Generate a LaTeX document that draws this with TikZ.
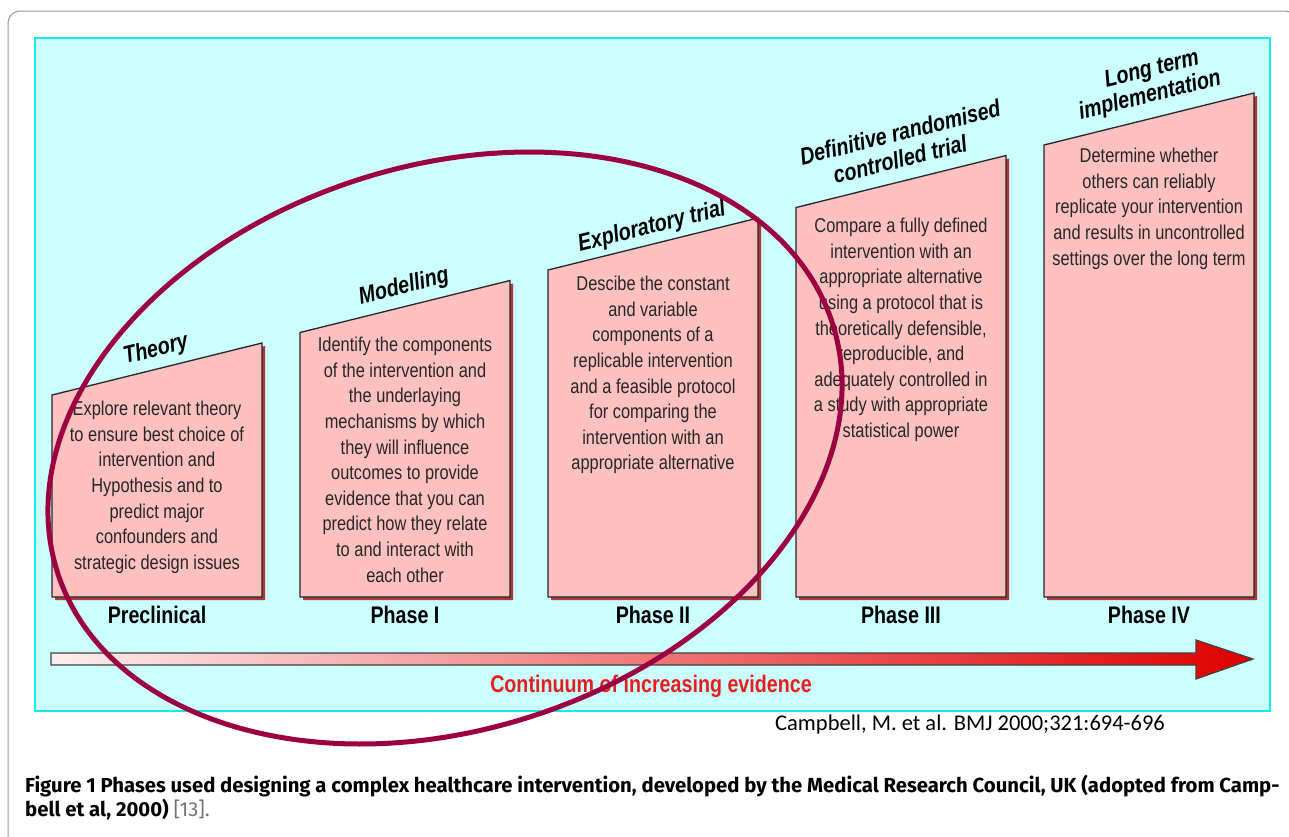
\documentclass[tikz,border=0pt]{standalone}
\usepackage{fontspec}
\usepackage{tikz}
\usetikzlibrary{positioning}
\newfontfamily\narrowfont[FakeStretch=0.82]{Liberation Sans}
\newfontfamily\capfont{Fira Sans}
\newfontfamily\citefont{Carlito}
\definecolor{panelcyan}{RGB}{204,255,255}
\definecolor{paneledge}{RGB}{20,235,235}
\definecolor{boxpink}{RGB}{255,192,192}
\definecolor{shadowred}{RGB}{175,55,55}
\definecolor{ringred}{RGB}{155,0,65}
\definecolor{evidred}{RGB}{228,30,30}
\definecolor{arrowred}{RGB}{222,0,0}
\definecolor{arrowpale}{RGB}{253,238,238}

\begin{document}
\begin{tikzpicture}[
    x=1pt, y=-1pt,
    panel/.style={fill=panelcyan, draw=paneledge, line width=2},
    phasebox/.style={fill=boxpink, draw=black!85, line width=1.3},
    boxshadow/.style={fill=shadowred},
    boxtext/.style={anchor=north, align=center, inner sep=0, text=black!85,
        font=\narrowfont\fontsize{20}{25.6}\selectfont},
    boxtitle/.style={rotate=13.9, inner sep=1,
        font=\narrowfont\bfseries\itshape\fontsize{24}{24}\selectfont},
    phase/.style={font=\narrowfont\bfseries\fontsize{24}{28}\selectfont},
    ring/.style={draw=ringred, line width=5},
    ]
    \useasboundingbox (0,0) rectangle (1289,836);

    % frame and panel
    \draw[gray!80, line width=1, rounded corners=12] (8,11) rectangle (1297,848);
    \draw[panel] (35,38) rectangle (1270,711);

    \foreach \k/\ty/\body in {
        0/401/{Explore relevant theory\\to ensure best choice of\\intervention and\\Hypothesis and to\\predict major\\confounders and\\strategic design issues},
        1/337/{Identify the components\\of the intervention and\\the underlaying\\mechanisms by which\\they will influence\\outcomes to provide\\evidence that you can\\predict how they relate\\to and interact with\\each other},
        2/276/{Descibe the constant\\and variable\\components of a\\replicable intervention\\and a feasible protocol\\for comparing the\\intervention with an\\appropriate alternative},
        3/218/{Compare a fully defined\\intervention with an\\appropriate alternative\\using a protocol that is\\theoretically defensible,\\reproducible, and\\adequately controlled in\\a study with appropriate\\statistical power},
        4/148/{Determine whether\\others can reliably\\replicate your intervention\\and results in uncontrolled\\settings over the long term}} {
        \pgfmathsetmacro\lx{52+248*\k}
        \pgfmathsetmacro\rx{\lx+210}
        \pgfmathsetmacro\tl{395-62.5*\k}
        \pgfmathsetmacro\tr{\tl-52}
        \fill[boxshadow] (\lx+3,\tl+3) -- (\rx+3,\tr+3) -- (\rx+3,600) -- (\lx+3,600) -- cycle;
        \draw[phasebox] (\lx,\tl) -- (\rx,\tr) -- (\rx,597) -- (\lx,597) -- cycle;
        \node[boxtext] (body\k) at (\lx+105,\ty) {\body};
    }

    % stage names along the slanted tops
    \foreach \name/\x/\y/\title in {theory/156/350/Theory, modelling/404/287/Modelling,
        exploratory/652/227/Exploratory trial,
        definitive/900/132/Definitive randomised, controlled/900/159/controlled trial,
        longterm/1152/70/Long term, implementation/1150/96/implementation}
        \node[boxtitle] (\name) at (\x,\y) {\title};

    \foreach \k/\label in {0/Preclinical, 1/Phase I, 2/Phase II, 3/Phase III, 4/Phase IV}
        \node[phase] (phase\k) at (157+248*\k, 615) {\label};

    % evidence arrow
    \shade[left color=arrowpale, right color=arrowred, draw=black!75, line width=1.2]
        (51,653) -- (1196,653) -- (1196,640) -- (1253,659) -- (1196,679)
        -- (1196,665) -- (51,665) -- cycle;
    \coordinate (arrowmid) at (651,665);
    \node[below=7pt of arrowmid, text=evidred,
        font=\narrowfont\bfseries\fontsize{24}{28}\selectfont] (evidence)
        {Continuum of increasing evidence};

    \node[font=\citefont\fontsize{22.5}{26}\selectfont] (source) at (970,724)
        {Campbell, M. et al. BMJ 2000;321:694-696};

    \node[anchor=north west, align=left, inner sep=0,
        font=\capfont\bfseries\fontsize{20.3}{24}\selectfont] (caption) at (25,775)
        {Figure 1 Phases used designing a complex healthcare intervention, developed by the Medical Research Council, UK (adopted from Camp-\\bell et al, 2000) {\mdseries\color{black!55}[13].}};

    % highlight ring
    \draw[ring] [rotate around={17.8:(445,448)}] (445,448) ellipse (407 and 282);
\end{tikzpicture}
\end{document}
